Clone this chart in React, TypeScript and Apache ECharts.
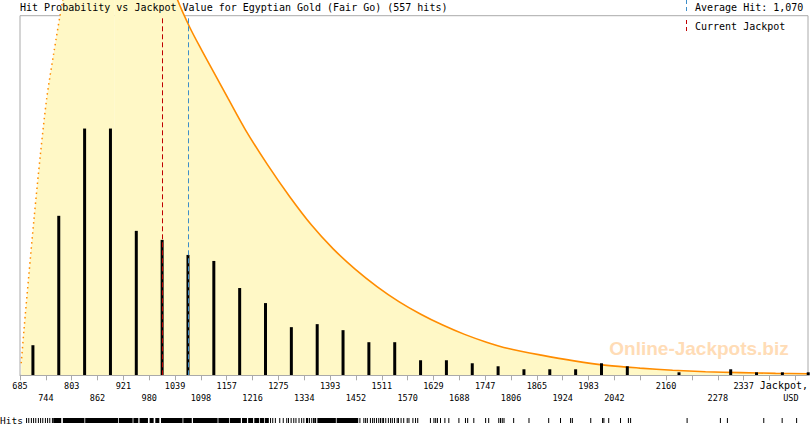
import React, { useEffect, useRef } from 'react';
import * as echarts from 'echarts';

const titleText = 'Hit Probability vs Jackpot Value for Egyptian Gold (Fair Go) (557 hits)';
const averageText = 'Average Hit: 1,070';
const currentText = 'Current Jackpot';
const averageHit = 1070;
const currentJackpot = 1009;

const binLows = [685, 744, 803, 862, 921, 980, 1039, 1098, 1157, 1216, 1275, 1334, 1393, 1452, 1511, 1570, 1629, 1688, 1747, 1806, 1865, 1924, 1983, 2042, 2101, 2160, 2219, 2278, 2337, 2396, 2455];
const binWidth = 59;
const hitCounts = [10, 53, 82, 82, 48, 45, 40, 38, 29, 24, 16, 17, 15, 11, 11, 5, 5, 4, 3, 2, 2, 2, 4, 3, 0, 1, 0, 2, 1, 1, 1];

const tickValues = [685, 744, 803, 862, 921, 980, 1039, 1098, 1157, 1216, 1275, 1334, 1393, 1452, 1511, 1570, 1629, 1688, 1747, 1806, 1865, 1924, 1983, 2042, 2101, 2160, 2219, 2278, 2337, 2396, 2455];
const labelsRowA = [685, 803, 921, 1039, 1157, 1275, 1393, 1511, 1629, 1747, 1865, 1983, 2160, 2337];
const labelsRowB = [744, 862, 980, 1098, 1216, 1334, 1452, 1570, 1688, 1806, 1924, 2042, 2278];

// rising (dotted) part of the fitted curve, then falling (solid) part
const riseX = [687.8, 694, 705, 717, 732, 746, 762, 783, 810, 850, 900];
const riseY = [4, 15, 33, 52, 74, 92, 107, 125, 145, 162, 167];
const fallX = [900, 950, 1000, 1044, 1073, 1100, 1130, 1160, 1200, 1250, 1300, 1350, 1400, 1450, 1500, 1550, 1600, 1650, 1700, 1750, 1800, 1875, 1950, 2025, 2100, 2175, 2250, 2330, 2410, 2484];
const fallY = [167, 160, 143, 125, 115.5, 108, 100, 92, 81.5, 70, 59.5, 50, 42, 35.3, 29.5, 24.5, 20.3, 16.7, 13.6, 11, 8.9, 6.7, 4.8, 3.3, 2.4, 1.7, 1.2, 0.9, 0.65, 0.5];

// rug of individual hits: [from, to] jackpot values
const rugSpans: number[][] = [
  [700, 700], [705, 705], [711, 711], [716, 716], [721, 721], [727, 727], [732, 732], [737, 737], [743, 743], [748, 748], [753, 753], [759, 759],
  [762, 778], [784, 831], [835, 908], [912, 941], [945, 954], [959, 976], [982, 989], [995, 1002], [1008, 1055], [1059, 1076], [1081, 1135],
  [1139, 1161], [1165, 1188], [1193, 1202], [1207, 1216], [1221, 1230], [1234, 1241], [1245, 1252],
  [1257, 1257], [1262, 1262], [1268, 1268], [1278, 1278], [1286, 1286], [1294, 1294], [1298, 1298], [1304, 1304], [1310, 1310], [1315, 1315],
  [1322, 1322], [1328, 1328], [1333, 1333], [1339, 1342], [1346, 1346], [1351, 1351], [1355, 1355], [1358, 1360], [1365, 1405], [1409, 1456],
  [1461, 1461], [1470, 1470], [1474, 1474], [1478, 1478], [1485, 1485], [1490, 1490], [1494, 1494], [1499, 1499], [1504, 1504], [1508, 1508],
  [1512, 1512], [1515, 1515], [1520, 1520], [1526, 1526], [1531, 1531], [1535, 1535], [1540, 1540], [1546, 1546], [1549, 1549], [1555, 1555],
  [1561, 1561], [1569, 1569], [1573, 1573], [1582, 1582], [1588, 1588], [1593, 1593],
  [1622, 1622], [1630, 1630], [1634, 1634], [1638, 1638], [1645, 1645], [1655, 1655], [1664, 1664], [1687, 1687], [1702, 1702], [1707, 1707],
  [1721, 1721], [1748, 1748], [1755, 1755], [1778, 1778], [1782, 1782], [1786, 1786], [1790, 1790], [1812, 1812], [1847, 1847], [1892, 1892],
  [1919, 1919], [1942, 1942], [1946, 1946], [1988, 1988], [2015, 2015], [2018, 2018], [2029, 2029], [2056, 2056], [2074, 2074], [2079, 2079],
  [2208, 2208], [2284, 2284], [2300, 2300], [2383, 2383], [2425, 2425], [2458, 2458],
];

const MONO = '"DejaVu Sans Mono", monospace';
const ORANGE = '#ff8c00';
const FILL = '#fff8c6';
const GRAY = '#aaaaaa';
const RED = '#c00000';
const BLUE = '#3d8ec9';
const X_MIN = 685;
const X_MAX = 2484;

export default function App() {
  const ref = useRef<HTMLDivElement>(null);
  useEffect(() => {
    const chart = echarts.init(ref.current!, null, { renderer: 'svg' });
    const axisBase = { type: 'value', min: X_MIN, max: X_MAX, splitLine: { show: false } };
    const option: any = {
      animation: false,
      backgroundColor: '#ffffff',
      grid: [
        { left: 20, right: 2, top: 15.7, bottom: 49.7, show: true, borderColor: GRAY, borderWidth: 1, backgroundColor: 'transparent' },
        { left: 20, right: 2, top: 418, height: 5 },
      ],
      xAxis: [
        {
          ...axisBase, gridIndex: 0, position: 'bottom', z: 5,
          axisLine: { show: true, lineStyle: { color: GRAY, width: 1 } },
          axisTick: { show: true, customValues: tickValues, length: 5, lineStyle: { color: GRAY } },
          axisLabel: { show: true, customValues: labelsRowA, margin: 6, formatter: (v: number) => String(v), fontFamily: MONO, fontSize: 8.5, color: '#000' },
        },
        {
          ...axisBase, gridIndex: 0, position: 'bottom', offset: 0, z: 5,
          axisLine: { show: false }, axisTick: { show: false },
          axisLabel: { show: true, customValues: labelsRowB, margin: 18, formatter: (v: number) => String(v), fontFamily: MONO, fontSize: 8.5, color: '#000' },
        },
        { ...axisBase, gridIndex: 1, show: false },
      ],
      yAxis: [
        { type: 'value', gridIndex: 0, min: 0, max: 119.5, show: false, splitLine: { show: false } },
        { type: 'value', gridIndex: 1, min: 0, max: 1, show: false, splitLine: { show: false } },
      ],
      graphic: [
        { type: 'text', x: 20, y: 7, z: 100, style: { text: titleText, font: `10px ${MONO}`, fill: '#000', verticalAlign: 'middle', align: 'left' } },
        { type: 'line', z: 100, shape: { x1: 686.5, y1: 0, x2: 686.5, y2: 11 }, style: { stroke: BLUE, lineWidth: 1, lineDash: [4, 3] } },
        { type: 'text', x: 695, y: 7, z: 100, style: { text: averageText, font: `10px ${MONO}`, fill: '#000', verticalAlign: 'middle', align: 'left' } },
        { type: 'line', z: 100, shape: { x1: 686.5, y1: 20, x2: 686.5, y2: 33 }, style: { stroke: RED, lineWidth: 1, lineDash: [4, 3] } },
        { type: 'text', x: 695, y: 26.7, z: 100, style: { text: currentText, font: `10px ${MONO}`, fill: '#000', verticalAlign: 'middle', align: 'left' } },
        { type: 'text', x: 808, y: 385.4, z: 100, style: { text: 'Jackpot,', font: `10px ${MONO}`, fill: '#000', verticalAlign: 'middle', align: 'right' } },
        { type: 'text', x: 798.5, y: 398, z: 100, style: { text: 'USD', font: `8.5px ${MONO}`, fill: '#000', verticalAlign: 'middle', align: 'right' } },
        { type: 'text', x: 0, y: 420, z: 100, style: { text: 'Hits', font: `9.5px ${MONO}`, fill: '#000', verticalAlign: 'middle', align: 'left' } },
        { type: 'text', x: 699, y: 348, z: 1, style: { text: 'Online-Jackpots.biz', font: `bold 19px "Liberation Sans", Arial, sans-serif`, fill: '#ffdcb6', verticalAlign: 'middle', align: 'center' } },
      ],
      series: [
        {
          type: 'line', xAxisIndex: 0, yAxisIndex: 0, clip: false, z: 1,
          data: riseX.map((x, i) => [x, riseY[i]]),
          smooth: 0.3, symbol: 'none', silent: true,
          lineStyle: { color: ORANGE, width: 1.5, type: [1.5, 3.5] },
          areaStyle: { color: FILL, opacity: 1 },
        },
        {
          type: 'line', xAxisIndex: 0, yAxisIndex: 0, clip: false, z: 1,
          data: fallX.map((x, i) => [x, fallY[i]]),
          smooth: 0.3, symbol: 'none', silent: true,
          lineStyle: { color: ORANGE, width: 1.6 },
          areaStyle: { color: FILL, opacity: 1 },
        },
        {
          type: 'bar', xAxisIndex: 0, yAxisIndex: 0, clip: false, z: 3, silent: true,
          barWidth: 3,
          itemStyle: { color: '#000' },
          data: binLows.map((b, i) => [b + binWidth / 2, hitCounts[i]]),
          markLine: {
            silent: true, symbol: 'none', z: 5,
            label: { show: false },
            lineStyle: { width: 1, type: [5, 3] },
            data: [
              { xAxis: currentJackpot, lineStyle: { color: RED, width: 1, type: [5, 3] } },
              { xAxis: averageHit, lineStyle: { color: BLUE, width: 1, type: [5, 3] } },
            ],
          },
        },
        {
          type: 'custom', xAxisIndex: 2, yAxisIndex: 1, clip: false, silent: true,
          dimensions: ['from', 'to'],
          encode: { x: [0, 1] },
          data: rugSpans,
          renderItem: (params: any, api: any) => {
            const p0 = api.coord([api.value(0), 1]);
            const p1 = api.coord([api.value(1), 0]);
            return {
              type: 'rect',
              shape: { x: p0[0] - 0.5, y: p0[1], width: Math.max(1, p1[0] - p0[0] + 1), height: p1[1] - p0[1] },
              style: { fill: '#000' },
            };
          },
        },
      ],
    };
    chart.setOption(option);
    return () => chart.dispose();
  }, []);
  return <div ref={ref} style={{ position: 'fixed', left: 0, top: 0, width: 810, height: 425, background: '#fff' }} />;
}
